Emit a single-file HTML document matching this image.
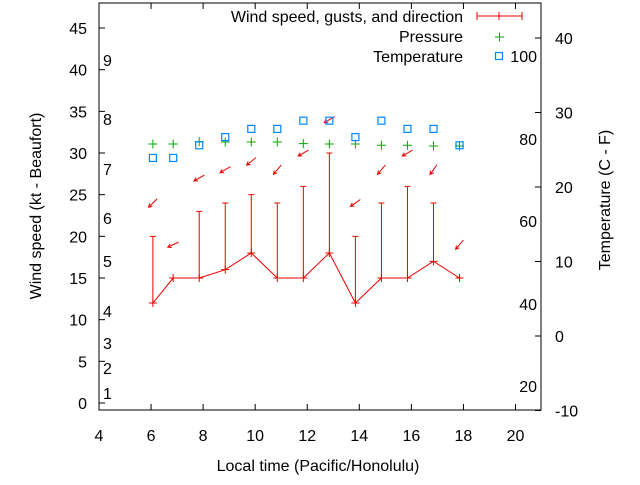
<!DOCTYPE html>
<html><head><meta charset="utf-8"><style>
body{margin:0;background:#fff}
svg text{font-family:"Liberation Sans",sans-serif;font-size:16px;fill:#000}
</style></head><body>
<svg id="chart" width="640" height="480" viewBox="0 0 640 480" xmlns="http://www.w3.org/2000/svg">
<g id="axes"></g><g id="marks"></g>
<text x="318" y="471" text-anchor="middle">Local time (Pacific/Honolulu)</text>
<text transform="translate(41,206) rotate(-90)" text-anchor="middle">Wind speed (kt - Beaufort)</text>
<text transform="translate(610,200) rotate(-90)" text-anchor="middle">Temperature (C - F)</text>
<g>
<text x="463" y="22" text-anchor="end">Wind speed, gusts, and direction</text>
<line x1="477" y1="16" x2="522" y2="16" stroke="#e00" stroke-width="1"/>
<line x1="477" y1="12" x2="477" y2="20" stroke="#e00"/><line x1="522" y1="12" x2="522" y2="20" stroke="#e00"/><line x1="499" y1="12" x2="499" y2="20" stroke="#e00"/>
<text x="463" y="42" text-anchor="end">Pressure</text>
<path d="M495,37h9M499.5,32.5v9" stroke="#0a0" stroke-width="1"/>
<text x="463" y="62" text-anchor="end">Temperature</text>
<rect x="495.5" y="52.5" width="7" height="7" fill="none" stroke="#08f" stroke-width="1.2"/>
</g>
</svg>
<script>
const times=[6.07,6.85,7.85,8.85,9.85,10.85,11.85,12.85,13.85,14.85,15.85,16.85,17.85];
const speeds=[12,15,15,16,18,15,15,18,12,15,15,17,15];
const gusts=[20,null,23,24,25,24,26,30,20,24,26,24,null];
const pressure=[1015.0,1015.0,1015.6,1015.5,1015.5,1015.5,1015.1,1015.0,1015.0,1014.7,1014.7,1014.5,1014.5];
const tempC=[23.9,23.9,25.6,26.7,27.8,27.8,28.9,28.9,26.7,28.9,27.8,27.8,25.6];
const arrowY=[24,19,27,28,29,28,30,34,24,28,30,28,19];
const windDir=[45,65,60,60,50,40,60,60,55,40,60,35,40];
const xTicks=[4,6,8,10,12,14,16,18,20];
const yTicks=[0,5,10,15,20,25,30,35,40,45];
const y2Ticks=[-10,0,10,20,30,40];
const beaufortLabels=[["1",393],["2",368],["3",343],["4",311],["5",261],["6",218],["7",169],["8",119],["9",60]];
const fahrLabels=[["20",386],["40",304],["60",221],["80",139],["100",56]];
const L=99,R=541,T=3,B=410;
const X=t=>L+(t-4)*26.03;
const Y=v=>403-v*8.333;
const Y2=c=>336-c*7.45;
const YP=p=>144-(p-1015)*4;
const NS="http://www.w3.org/2000/svg";
const axes=document.getElementById('axes'),marks=document.getElementById('marks');
function mk(tag,attrs,parent,txt){const e=document.createElementNS(NS,tag);for(const k in attrs)e.setAttribute(k,attrs[k]);if(txt!==undefined)e.textContent=txt;parent.appendChild(e);return e;}
let f=mk('rect',{x:L,y:T,width:R-L,height:B-T,fill:'none',stroke:'#000','stroke-width':1},axes);


xTicks.forEach(t=>{const x=X(t);
 let l=mk('path',{d:`M${x},${B}v-6M${x},${T}v6`,stroke:'#000'},axes);
 
 
 let s=mk('text',{x:x,y:441,'text-anchor':'middle'},axes,String(t));
 
 });
yTicks.forEach(v=>{const y=Y(v);
 let l=mk('path',{d:`M${L},${y}h6`,stroke:'#000'},axes);
 
 
 let s=mk('text',{x:87,y:y+6,'text-anchor':'end'},axes,String(v));
 
 });
y2Ticks.forEach(c=>{const y=Y2(c);
 let l=mk('path',{d:`M${R},${y}h-6`,stroke:'#000'},axes);
 
 
 let s=mk('text',{x:555,y:y+6},axes,String(c));
 
 });
beaufortLabels.forEach(b=>{let s=mk('text',{x:103,y:b[1]+6},axes,b[0]);
 
 });
fahrLabels.forEach(b=>{let s=mk('text',{x:537,y:b[1]+6,'text-anchor':'end'},axes,b[0]);
 
 });
let pl=mk('polyline',{points:times.map((t,i)=>X(t)+','+Y(speeds[i])).join(' '),fill:'none',stroke:'#e00'},marks);


times.forEach((t,i)=>{const x=X(t),y=Y(speeds[i]);
 if(gusts[i]!==null){const g=Y(gusts[i]);
  let gl=mk('path',{d:`M${x},${y}V${g}M${x-3},${g}h6`,stroke:'#e00'},marks);
  
  }
 let p=mk('path',{d:`M${x-4},${y}h8M${x},${y-4}v8`,stroke:'#e00'},marks);
 
 
 const ay=Y(arrowY[i]),r=windDir[i]*Math.PI/180,dx=-Math.sin(r)*12,dy=Math.cos(r)*12;
 const x0=x-dx/2,y0=ay-dy/2,x1=x+dx/2,y1=ay+dy/2,a=Math.atan2(dy,dx);
 const h1=[x1-4*Math.cos(a-0.5),y1-4*Math.sin(a-0.5)],h2=[x1-4*Math.cos(a+0.5),y1-4*Math.sin(a+0.5)];
 let ar=mk('path',{d:`M${x0},${y0}L${x1},${y1}M${h1[0]},${h1[1]}L${x1},${y1}L${h2[0]},${h2[1]}`,stroke:'#e00',fill:'none'},marks);
 
 
 const py=YP(pressure[i]);
 let pp=mk('path',{d:`M${x-4.5},${py}h9M${x},${py-4.5}v9`,stroke:'#0a0'},marks);
 
 
 const ty=Y2(tempC[i]);
 let sq=mk('rect',{x:x-3.5,y:ty-3.5,width:7,height:7,fill:'none',stroke:'#08f','stroke-width':1.2},marks);
 
 
});
</script>
</body></html>
